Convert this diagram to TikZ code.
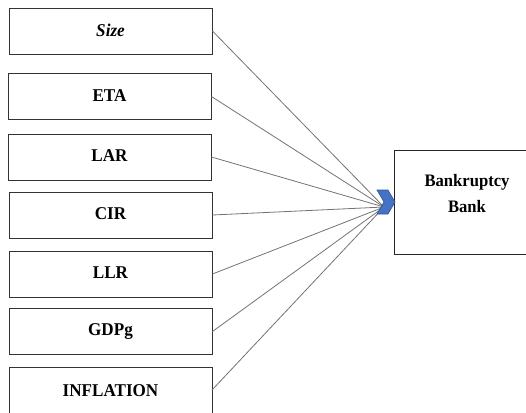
\documentclass[tikz,border=0pt]{standalone}
\usepackage{fontspec}
\setmainfont{Liberation Serif}
\definecolor{chev}{RGB}{68,114,196}
\definecolor{chevdark}{RGB}{47,82,143}
\newcommand{\boxtxt}[1]{\scalebox{0.95}[1]{#1}}
\begin{document}
\begin{tikzpicture}[x=1pt,y=-1pt,
  varbox/.style={draw=black!80, line width=0.9pt, minimum width=203pt, minimum height=46pt, inner sep=0pt, font=\fontsize{18}{22}\selectfont\bfseries},
  link/.style={draw=black!55, line width=0.8pt}]
\useasboundingbox (0,0) rectangle (526,412);
\node[varbox] (size) at (110.5,31) {\raisebox{2pt}{\boxtxt{\itshape Size}}};
\node[varbox] (eta)  at (109.5,96.5) {\raisebox{2pt}{\boxtxt{ETA}}};
\node[varbox] (lar)  at (109.5,157) {\raisebox{2pt}{\boxtxt{LAR}}};
\node[varbox] (cir)  at (110.5,215) {\raisebox{2pt}{\boxtxt{CIR}}};
\node[varbox] (llr)  at (110.5,274) {\raisebox{2pt}{\boxtxt{LLR}}};
\node[varbox] (gdp)  at (110.5,331.5) {\raisebox{2pt}{\boxtxt{GDPg}}};
\node[varbox, minimum height=46pt, anchor=north] (inf) at (110.5,367) {\raisebox{-5pt}{\boxtxt{INFLATION}}};
\draw[draw=black!85, line width=0.9pt] (394,150) rectangle (528,254);
\node[font=\fontsize{17.5}{26}\selectfont\bfseries, align=center, inner sep=0pt] (bank) at (467,194) {\boxtxt{Bankruptcy}\\\boxtxt{Bank}};
\coordinate (conv) at (384,207);
\foreach \n in {size,eta,lar,cir,llr,gdp} \draw[link] (\n.east) -- (conv);
\draw[link] (212,390) -- (conv);
\draw[fill=chev, draw=chevdark, line width=0.6pt] (377,190) -- (388,190) -- (395,202) -- (388,214) -- (377,214) -- (384,202) -- cycle;
\end{tikzpicture}
\end{document}
